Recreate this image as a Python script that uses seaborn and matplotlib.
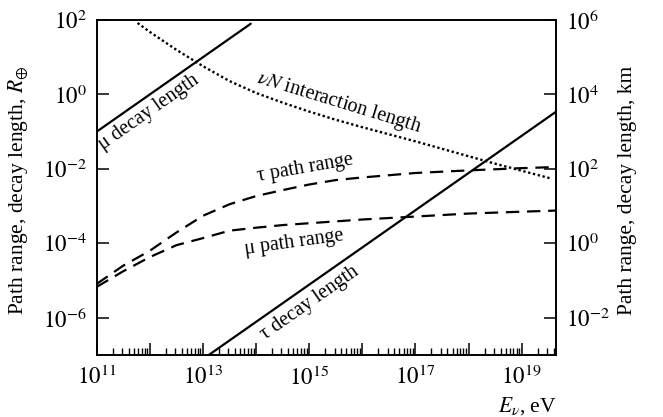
import numpy as np
import pandas as pd
import matplotlib
matplotlib.use("Agg")
import matplotlib.pyplot as plt
import matplotlib.ticker as mticker
import seaborn as sns

sns.set_theme(style="ticks")
plt.rcParams.update({
    "font.family": ["Liberation Serif", "DejaVu Serif"],
    "mathtext.fontset": "stix",
    "font.size": 14.5,
    "axes.linewidth": 1.2,
    "axes.edgecolor": "black",
    "text.color": "black",
    "axes.labelcolor": "black",
    "xtick.color": "black",
    "ytick.color": "black",
})

# log10 of neutrino energy E_nu (eV) and log10 of length (Earth radii)
mu_decay_logE = [11.0, 13.9]
mu_decay_logL = [-1.0, 1.9]

tau_decay_logE = [13.11, 19.64]
tau_decay_logL = [-7.0, -0.47]

nuN_logE = [11.77, 12.0, 12.5, 13.0, 13.5, 14.0, 14.5, 15.0, 15.5, 16.0,
            16.5, 17.0, 17.5, 18.0, 18.5, 19.0, 19.53]
nuN_logL = [1.92, 1.68, 1.20, 0.76, 0.36, 0.04, -0.22, -0.46, -0.68, -0.88,
            -1.07, -1.26, -1.46, -1.66, -1.86, -2.05, -2.25]

tau_range_logE = [11.0, 11.5, 12.0, 12.5, 13.0, 13.5, 14.0, 14.5, 15.0, 15.5,
                  16.0, 17.0, 18.0, 19.0, 19.64]
tau_range_logL = [-5.09, -4.60, -4.20, -3.71, -3.26, -2.95, -2.73, -2.57, -2.42,
                  -2.30, -2.23, -2.11, -2.04, -1.98, -1.95]

mu_range_logE = [11.0, 11.5, 12.0, 12.5, 13.0, 13.5, 14.0, 14.5, 15.0, 15.5,
                 16.0, 17.0, 18.0, 19.0, 19.64]
mu_range_logL = [-5.17, -4.75, -4.37, -4.05, -3.86, -3.66, -3.58, -3.51, -3.46,
                 -3.41, -3.36, -3.28, -3.20, -3.15, -3.12]

x_tick_exponents = list(range(11, 20))
left_tick_exponents = [-6, -4, -2, 0, 2]
right_tick_exponents = [-2, 0, 2, 4, 6]
R_EARTH_TO_KM_SCALE = 1e4

TICK_FS = 16.5
LABEL_FS = 15.5
NOTE_FS = 14.5


def frame(logE, logL):
    return pd.DataFrame({"E": 10 ** np.asarray(logE, float),
                         "L": 10 ** np.asarray(logL, float)})


def pow10(v, pos):
    return "$10^{%d}$" % round(np.log10(v))


fig = plt.figure(figsize=(6.63, 4.17), dpi=100)
ax = fig.add_axes([0.1458, 0.1487, 0.6924, 0.8033])
ax.set_xscale("log")
ax.set_yscale("log")

black = "black"
sns.lineplot(data=frame(mu_decay_logE, mu_decay_logL), x="E", y="L", ax=ax,
             color=black, lw=1.6, linestyle="-")
sns.lineplot(data=frame(tau_decay_logE, tau_decay_logL), x="E", y="L", ax=ax,
             color=black, lw=1.6, linestyle="-")
sns.lineplot(data=frame(nuN_logE, nuN_logL), x="E", y="L", ax=ax,
             color=black, lw=1.7, linestyle=(0, (1.0, 1.1)))
sns.lineplot(data=frame(tau_range_logE, tau_range_logL), x="E", y="L", ax=ax,
             color=black, lw=1.6, linestyle=(0, (6, 3.5)))
sns.lineplot(data=frame(mu_range_logE, mu_range_logL), x="E", y="L", ax=ax,
             color=black, lw=1.6, linestyle=(0, (6, 3.5)))

ax.set_xlim(1e11, 10 ** 19.64)
ax.set_ylim(1e-7, 1e2)

# bottom axis: decade ticks, labels on odd powers only
ax.xaxis.set_major_locator(mticker.FixedLocator([10.0 ** e for e in x_tick_exponents]))
ax.xaxis.set_major_formatter(mticker.FuncFormatter(
    lambda v, pos: pow10(v, pos) if round(np.log10(v)) % 2 else ""))
ax.xaxis.set_minor_locator(mticker.LogLocator(base=10, subs=np.arange(2, 10), numticks=50))
ax.xaxis.set_minor_formatter(mticker.NullFormatter())

ax.yaxis.set_major_locator(mticker.FixedLocator([10.0 ** e for e in left_tick_exponents]))
ax.yaxis.set_major_formatter(mticker.FuncFormatter(pow10))
ax.yaxis.set_minor_locator(mticker.NullLocator())

ax.tick_params(axis="x", which="major", direction="in", length=8.5, width=1.1,
               top=False, pad=8, labelsize=TICK_FS)
ax.tick_params(axis="x", which="minor", direction="in", length=5, width=1.0, top=False)
ax.tick_params(axis="y", which="major", direction="in", length=8.5, width=1.1,
               right=False, pad=7, labelsize=TICK_FS)

ax2 = ax.twinx()
ax2.set_yscale("log")
lo, hi = ax.get_ylim()
ax2.set_ylim(lo * R_EARTH_TO_KM_SCALE, hi * R_EARTH_TO_KM_SCALE)
ax2.yaxis.set_major_locator(mticker.FixedLocator([10.0 ** e for e in right_tick_exponents]))
ax2.yaxis.set_major_formatter(mticker.FuncFormatter(pow10))
ax2.yaxis.set_minor_locator(mticker.NullLocator())
ax2.tick_params(axis="y", which="major", direction="in", length=8.5, width=1.1,
                pad=7.5, labelsize=TICK_FS)
for sp in ax2.spines.values():
    sp.set_linewidth(1.2)

# axis titles
ax.set_ylabel(r"Path range, decay length, $R_{\oplus}$", fontsize=LABEL_FS)
ax.yaxis.set_label_coords(-0.169, 0.49)
ax.yaxis.label.set_verticalalignment("center")
ax2.set_ylabel("Path range, decay length, km", fontsize=LABEL_FS)
ax2.yaxis.set_label_coords(1.157, 0.49)
ax2.yaxis.label.set_verticalalignment("center")
ax.set_xlabel(r"$E_{\nu}$, eV", fontsize=LABEL_FS)
ax.xaxis.set_label_coords(1.002, -0.152)
ax.xaxis.label.set_horizontalalignment("right")
ax.xaxis.label.set_verticalalignment("center")

# curve annotations
label_kw = dict(ha="center", va="center", rotation_mode="anchor", fontsize=NOTE_FS)
ax.text(10 ** 11.99, 10 ** -0.47, "\u03bc decay length", rotation=35, **label_kw)
ax.text(10 ** 15.56, 10 ** -0.23, r"$\nu N$ interaction length", rotation=-17, **label_kw)
ax.text(10 ** 14.92, 10 ** -1.98, "\u03c4 path range", rotation=10, **label_kw)
ax.text(10 ** 14.71, 10 ** -3.97, "\u03bc path range", rotation=8, **label_kw)
ax.text(10 ** 15.01, 10 ** -5.61, "\u03c4 decay length", rotation=35, **label_kw)

fig.savefig("out.png", dpi=100)
